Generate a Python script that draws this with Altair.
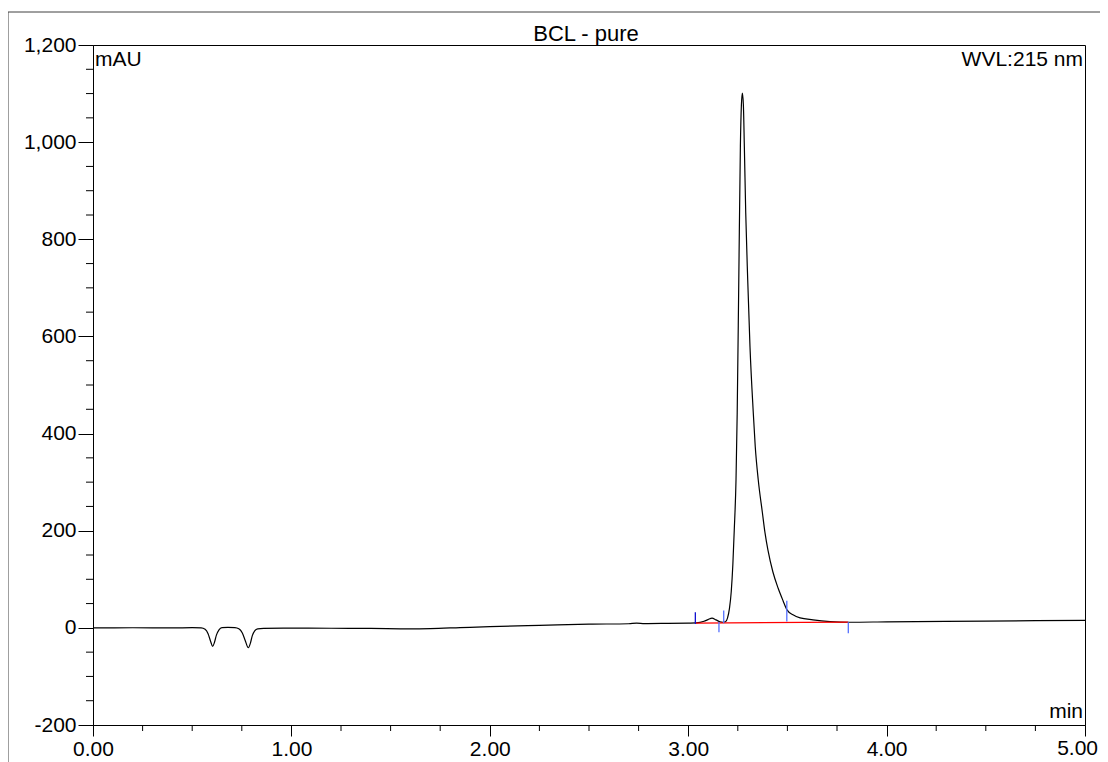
import altair as alt
import pandas as pd

FONT = "Liberation Sans"

# chromatogram trace (min, mAU)
time = [0.00, 0.20, 0.40, 0.50, 0.545, 0.565, 0.580, 0.593, 0.603, 0.612, 0.622, 0.635,
        0.650, 0.680, 0.715, 0.735, 0.752, 0.768, 0.783, 0.793, 0.803, 0.815, 0.830, 0.860,
        1.00, 1.20, 1.40, 1.60, 1.70, 1.85, 2.00, 2.25, 2.50, 2.70, 2.74, 2.78, 2.90, 3.00,
        3.04, 3.08, 3.10, 3.12, 3.14, 3.16, 3.175, 3.188, 3.198, 3.208, 3.217, 3.225, 3.232,
        3.241, 3.247, 3.255, 3.263, 3.268, 3.273, 3.278, 3.283, 3.290, 3.300, 3.3115, 3.328,
        3.338, 3.353, 3.374, 3.387, 3.402, 3.427, 3.453, 3.478, 3.498, 3.528, 3.564, 3.629,
        3.715, 3.815, 4.00, 4.50, 5.00]
absorb = [0.0, 0.2, 0.0, 0.3, 0.0, -3, -12, -28, -38, -30, -15, -4,
          0.5, 0.8, 0.3, -2, -10, -27, -41, -32, -16, -6, -2, -1,
          -0.5, -0.8, -1.2, -2.0, -1.5, 0.5, 2.5, 5.0, 7.5, 8.5, 9.8, 8.8, 9.3, 9.8,
          10.2, 13.5, 17, 20, 16.5, 12.5, 11.5, 12.5, 20, 40, 75, 130, 200,
          305, 443, 716, 991, 1075, 1101, 1078, 991, 854, 716, 578, 443,
          373, 305, 237, 196, 160, 115, 82, 56, 37, 27, 20.5, 16.5,
          13, 11.5, 12.5, 14, 15.5]

# integration baseline (red)
base_t = [3.035, 3.806]
base_v = [9.9, 11.7]

# peak delimiter marks (blue)
mark_t = [3.036, 3.155, 3.179, 3.497, 3.807]
mark_lo = [7.9, -8.9, 9.7, 13.0, -10.9]
mark_hi = [32.3, 11.9, 35.6, 55.6, 11.7]
mark_kind = ["start", "delim", "delim", "delim", "delim"]

# axis ticks
x_major = [0, 1, 2, 3, 4, 5]
x_last = [5]
x_last_label = ["5.00"]
x_minor = [0.25, 0.5, 0.75, 1.25, 1.5, 1.75, 2.25, 2.5, 2.75, 3.25, 3.5, 3.75,
           4.25, 4.5, 4.75]
y_major = [-200, 0, 200, 400, 600, 800, 1000, 1200]
y_minor = [-150, -100, -50, 50, 100, 150, 250, 300, 350, 450, 500, 550, 650, 700,
           750, 850, 900, 950, 1050, 1100, 1150]

xscale = alt.Scale(domain=[0, 5], nice=False, zero=False)
yscale = alt.Scale(domain=[-200, 1200], nice=False, zero=False)

trace = pd.DataFrame({"t": time, "v": absorb})
base = pd.DataFrame({"t": base_t, "v": base_v})
marks = pd.DataFrame({"t": mark_t, "v": mark_lo, "hi": mark_hi, "kind": mark_kind})

xaxis = alt.Axis(values=x_major, format=".2f", title=None, tickSize=11, tickColor="black",
                 domainColor="black", labelFont=FONT, labelFontSize=21, labelColor="black",
                 labelPadding=2, grid=False, labelFlush=False, labelOverlap=False,
                 labelExpr="datum.value === 5 ? '' : datum.label")
yaxis = alt.Axis(values=y_major, format=",.0f", title=None, tickSize=15, tickColor="black",
                 domainColor="black", labelFont=FONT, labelFontSize=21, labelColor="black",
                 labelPadding=2, grid=False, labelFlush=False, labelOverlap=False,
                 labelExpr="replace(datum.label, '\u2212', '-')")

line = alt.Chart(trace).mark_line(color="black", strokeWidth=1.2, interpolate="monotone").encode(
    x=alt.X("t:Q", scale=xscale, axis=xaxis),
    y=alt.Y("v:Q", scale=yscale, axis=yaxis),
)

baseline = alt.Chart(base).mark_line(color="#ff0000", strokeWidth=1.3).encode(
    x=alt.X("t:Q", scale=xscale, axis=xaxis),
    y=alt.Y("v:Q", scale=yscale, axis=yaxis),
)

delims = alt.Chart(marks).mark_rule(strokeWidth=1.3).encode(
    x=alt.X("t:Q", scale=xscale, axis=xaxis),
    y=alt.Y("v:Q", scale=yscale, axis=yaxis),
    y2="hi:Q",
    color=alt.Color("kind:N", scale=alt.Scale(domain=["start", "delim"],
                                              range=["#1010d0", "#5570ff"]), legend=None),
)

xminor = alt.Chart(pd.DataFrame({"t": x_minor})).mark_rule(color="black", strokeWidth=1).encode(
    x=alt.X("t:Q", scale=xscale, axis=xaxis),
    y=alt.value(680), y2=alt.value(686),
)
yminor = alt.Chart(pd.DataFrame({"v": y_minor})).mark_rule(color="black", strokeWidth=1).encode(
    y=alt.Y("v:Q", scale=yscale, axis=yaxis),
    x=alt.value(-7), x2=alt.value(0),
)

last_lbl = alt.Chart(pd.DataFrame({"t": x_last, "s": x_last_label})).mark_text(
    align="right", baseline="top", font=FONT, fontSize=21, color="black", dx=13).encode(
    x=alt.X("t:Q", scale=xscale, axis=xaxis),
    y=alt.value(693), text="s:N")

one = pd.DataFrame({"a": [0]})
frame_left = alt.Chart(one).mark_rule(color="#404040", strokeWidth=1).encode(
    x=alt.value(-85), y=alt.value(-33), y2=alt.value(760))
frame_top = alt.Chart(one).mark_rule(color="#404040", strokeWidth=1).encode(
    x=alt.value(-85), x2=alt.value(1030), y=alt.value(-33))

title_lbl = alt.Chart(pd.DataFrame({"s": ["BCL - pure"]})).mark_text(
    align="center", baseline="alphabetic", font=FONT, fontSize=22, color="black").encode(
    x=alt.value(493), y=alt.value(-4), text="s:N")
unit_lbl = alt.Chart(pd.DataFrame({"s": ["mAU"]})).mark_text(
    align="left", baseline="top", font=FONT, fontSize=21, color="black").encode(
    x=alt.value(2), y=alt.value(4), text="s:N")
wvl_lbl = alt.Chart(pd.DataFrame({"s": ["WVL:215 nm"]})).mark_text(
    align="right", baseline="top", font=FONT, fontSize=21, color="black").encode(
    x=alt.value(990), y=alt.value(4), text="s:N")
min_lbl = alt.Chart(pd.DataFrame({"s": ["min"]})).mark_text(
    align="right", baseline="alphabetic", font=FONT, fontSize=21, color="black").encode(
    x=alt.value(990), y=alt.value(673), text="s:N")

chart = alt.layer(
    line, baseline, delims, xminor, yminor, last_lbl, frame_left, frame_top,
    title_lbl, unit_lbl, wvl_lbl, min_lbl
).properties(
    width=992, height=680,
    autosize="none",
    padding={"left": 85, "top": 37, "right": 15, "bottom": 37},
).configure_view(stroke="black", strokeWidth=1)

chart.save("out.html", embed_options={"renderer": "svg", "actions": False})
